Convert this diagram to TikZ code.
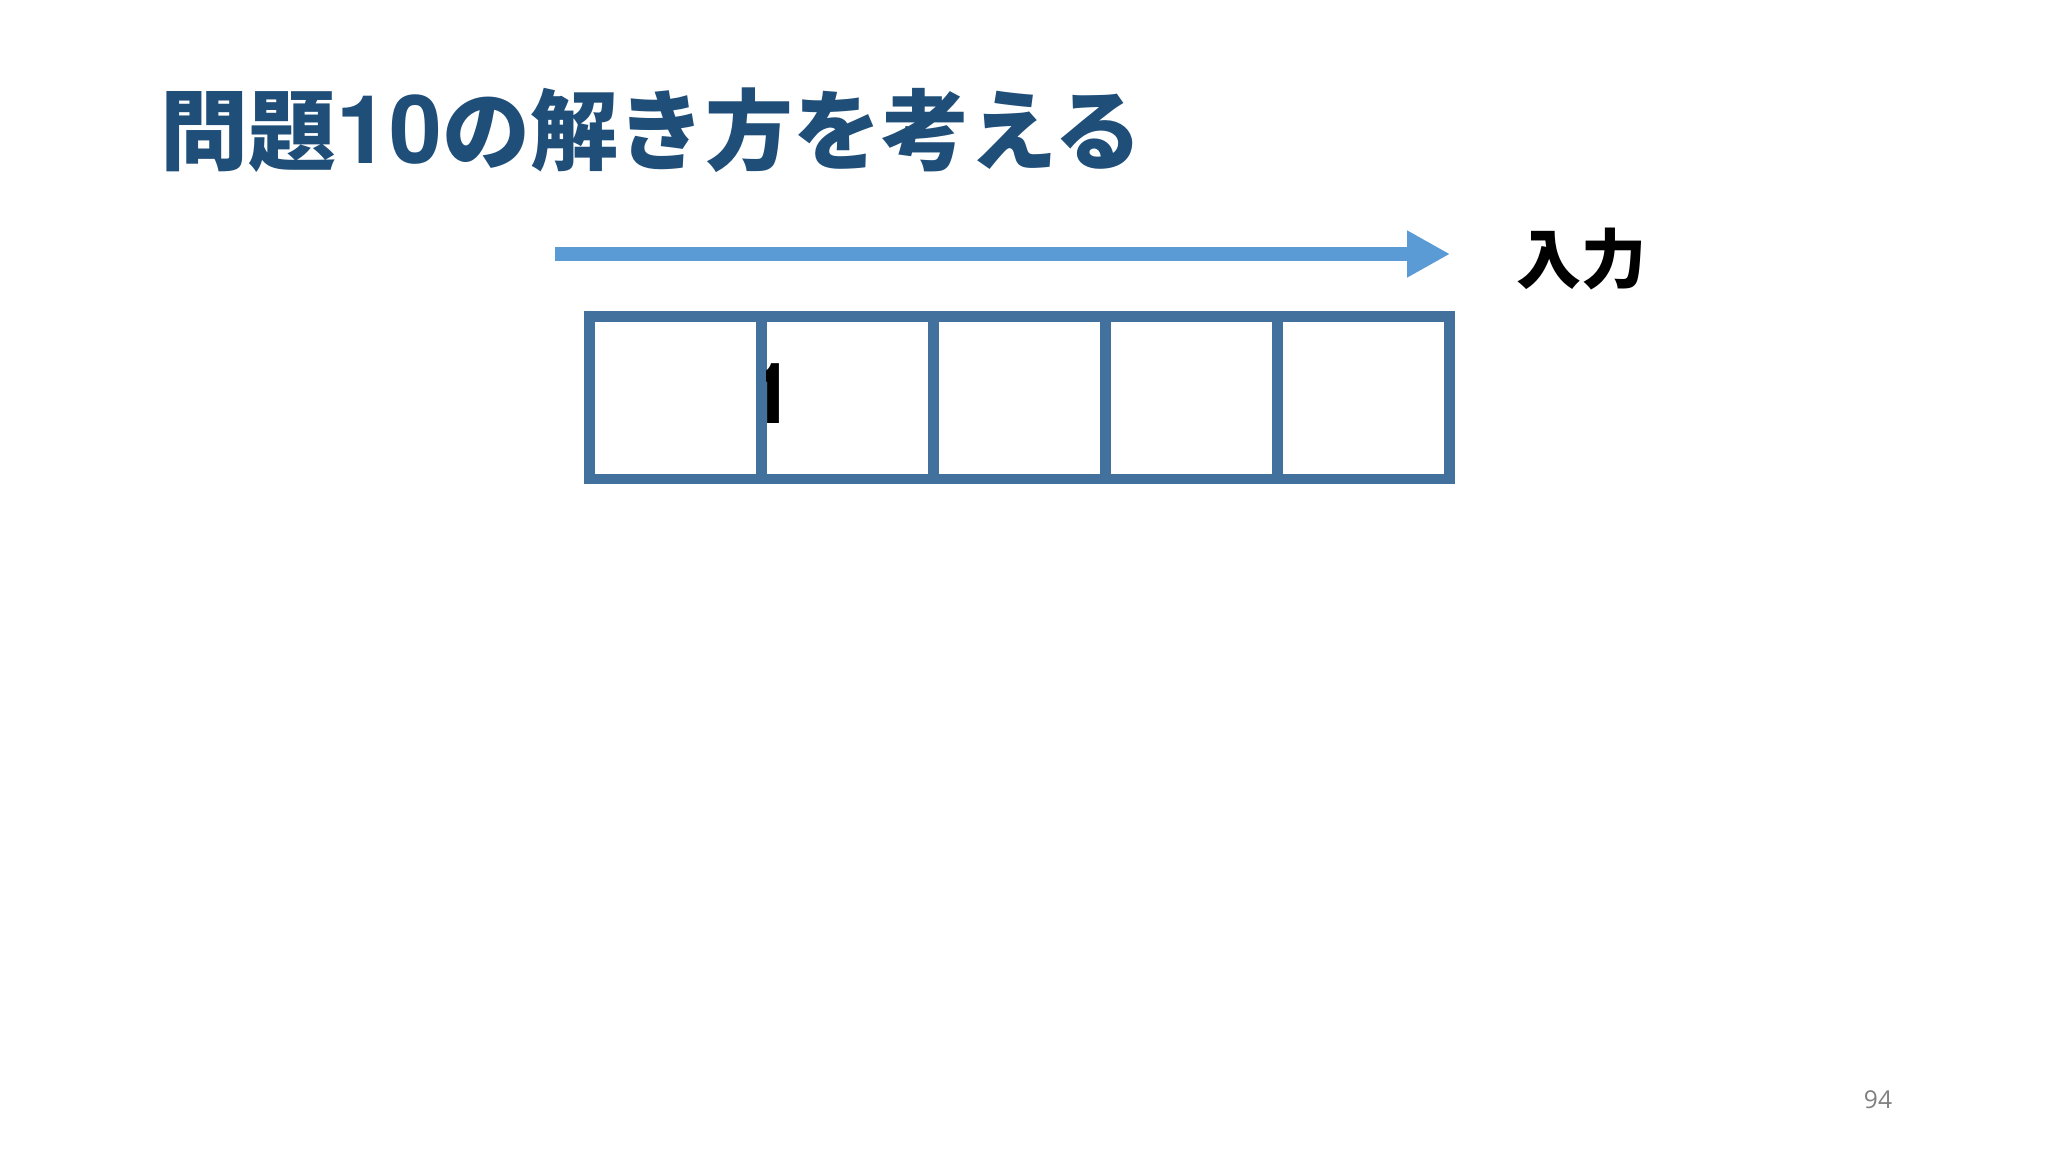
\documentclass[tikz,border=0pt]{standalone}
\usepackage{fontspec}
\newfontfamily\jpfont{Noto Sans CJK JP}
\newfontfamily\numfont{TeX Gyre Heros}
\setsansfont{Open Sans}
\usetikzlibrary{arrows.meta,positioning}

\definecolor{titulo}{HTML}{1F4E79}
\definecolor{celda}{HTML}{41719C}
\definecolor{flecha}{HTML}{5B9BD5}

\tikzset{
    cell/.style={draw=celda, line width=3pt, minimum width=1.72cm,
        minimum height=1.627cm, inner sep=0pt, outer sep=0pt},
    label jp/.style={font=\jpfont\bfseries\fontsize{18.5}{18.5}\selectfont, inner sep=0pt},
}

\begin{document}
\begin{tikzpicture}[x=0.01cm, y=-0.01cm]
        % Fija el marco de la diapositiva.
        \useasboundingbox[fill=white] (0,0) rectangle (2048,1152);
    
        % Escribe el título.
        \node[anchor=west, inner sep=0pt, text=titulo,
            font=\jpfont\bfseries\fontsize{25}{25}\selectfont] (title) at (160,130)
            {問題{\numfont\bfseries\fontsize{27}{27}\selectfont 10}の解き方を考える};
    
        % Dibuja la flecha de entrada y su etiqueta.
        \coordinate (start) at (555,254);
        \coordinate (end) at (1450,254);
        \draw[flecha, line width=4pt,
            -{Triangle[length=12.2pt, width=12.5pt]}] (start) -- (end);
        \node[label jp, anchor=west, right=66 of end, yshift=-1.5pt] (input) {入力};
    
        % Dibuja las cinco celdas.
        \foreach \i in {1,...,5}
            \node[cell] (c\i) at ({589.6+86+172*(\i-1)},397.7) {};
    
        % Escribe el dígito que asoma en la segunda celda.
        \begin{scope}
            \clip ([xshift=1.5pt]c2.north west) rectangle (c2.south east);
            \node[anchor=west, inner sep=0pt,
                font=\numfont\bfseries\fontsize{24}{24}\selectfont] (digit) at (747,394) {1};
        \end{scope}
    
        % Pone el número de página.
        \node[text=gray, font=\sffamily\fontsize{7}{7}\selectfont] (page) at (1878,1100) {94};
    \end{tikzpicture}
\end{document}
